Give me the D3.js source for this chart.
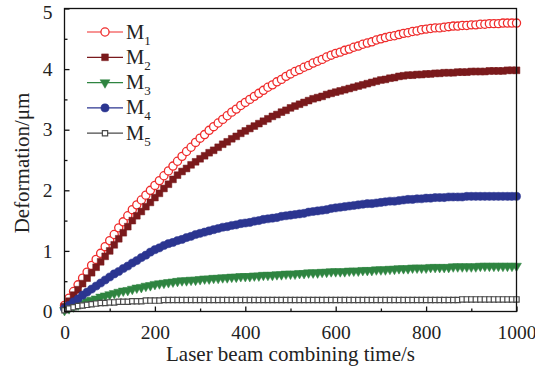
<!DOCTYPE html>
<html><head><meta charset="utf-8">
<script src="https://cdn.jsdelivr.net/npm/d3@7/dist/d3.min.js"></script>
<style>body{margin:0;background:#fff}svg{display:block}text{font-family:"Liberation Serif","Times New Roman",serif;fill:#222}</style>
</head><body><svg id="c" width="535" height="372"></svg>
<script>
const times = d3.range(0, 1001, 10);
const seriesNames = ["M1","M2","M3","M4","M5"];
const m1 = [0.10,0.22,0.33,0.44,0.55,0.65,0.76,0.86,0.96,1.07,1.17,
1.27,1.38,1.48,1.58,1.68,1.76,1.84,1.92,2.00,2.08,
2.16,2.24,2.32,2.40,2.48,2.56,2.64,2.71,2.79,2.86,
2.92,2.99,3.05,3.11,3.17,3.23,3.29,3.34,3.40,3.45,
3.50,3.55,3.60,3.65,3.70,3.74,3.79,3.83,3.88,3.92,
3.96,3.99,4.03,4.06,4.10,4.13,4.16,4.20,4.23,4.26,
4.28,4.31,4.33,4.36,4.38,4.41,4.43,4.45,4.48,4.50,
4.52,4.54,4.55,4.57,4.59,4.60,4.62,4.63,4.65,4.66,
4.67,4.68,4.68,4.69,4.70,4.71,4.71,4.72,4.72,4.73,
4.73,4.74,4.74,4.75,4.75,4.75,4.76,4.76,4.76,4.76];
const m2 = [0.08,0.17,0.27,0.36,0.46,0.55,0.64,0.73,0.82,0.91,1.00,
1.10,1.20,1.30,1.40,1.50,1.58,1.65,1.73,1.80,1.88,
1.95,2.03,2.10,2.18,2.25,2.31,2.36,2.42,2.47,2.52,
2.57,2.62,2.66,2.71,2.76,2.80,2.85,2.89,2.94,2.98,
3.02,3.06,3.10,3.14,3.18,3.22,3.25,3.29,3.32,3.36,
3.39,3.42,3.45,3.48,3.51,3.53,3.55,3.58,3.60,3.62,
3.64,3.66,3.68,3.70,3.72,3.74,3.76,3.78,3.80,3.82,
3.83,3.85,3.86,3.88,3.89,3.90,3.90,3.91,3.91,3.92,
3.92,3.93,3.93,3.94,3.94,3.94,3.95,3.95,3.95,3.96,
3.96,3.96,3.96,3.97,3.97,3.97,3.97,3.98,3.98,3.98];
const m3 = [0.02,0.05,0.08,0.11,0.14,0.17,0.19,0.21,0.24,0.26,0.28,
0.30,0.32,0.34,0.35,0.37,0.39,0.40,0.42,0.43,0.45,
0.46,0.47,0.48,0.49,0.50,0.51,0.51,0.52,0.52,0.53,
0.54,0.54,0.55,0.55,0.56,0.56,0.57,0.57,0.58,0.58,
0.58,0.59,0.59,0.60,0.60,0.60,0.61,0.61,0.62,0.62,
0.62,0.63,0.63,0.64,0.64,0.64,0.65,0.65,0.66,0.66,
0.66,0.66,0.67,0.67,0.67,0.68,0.68,0.68,0.69,0.69,
0.69,0.70,0.70,0.71,0.71,0.71,0.72,0.72,0.72,0.72,
0.73,0.73,0.73,0.73,0.73,0.74,0.74,0.74,0.74,0.74,
0.74,0.75,0.75,0.75,0.75,0.75,0.75,0.75,0.75,0.75];
const m4 = [0.05,0.10,0.16,0.21,0.27,0.32,0.37,0.42,0.47,0.52,0.57,
0.62,0.66,0.71,0.75,0.80,0.84,0.89,0.93,0.98,1.02,
1.05,1.09,1.12,1.14,1.17,1.19,1.22,1.24,1.27,1.29,
1.31,1.33,1.35,1.37,1.39,1.40,1.42,1.43,1.45,1.46,
1.47,1.49,1.50,1.52,1.53,1.54,1.55,1.57,1.58,1.59,
1.60,1.61,1.62,1.64,1.65,1.66,1.67,1.68,1.70,1.71,
1.72,1.73,1.74,1.75,1.76,1.77,1.78,1.78,1.79,1.80,
1.81,1.82,1.82,1.83,1.84,1.85,1.85,1.86,1.86,1.87,
1.87,1.88,1.88,1.88,1.89,1.89,1.89,1.89,1.90,1.90,
1.90,1.90,1.90,1.90,1.90,1.90,1.90,1.90,1.90,1.90];
const m5 = [0.02,0.05,0.07,0.09,0.10,0.11,0.12,0.13,0.14,0.14,0.15,
0.15,0.16,0.16,0.16,0.17,0.17,0.17,0.18,0.18,0.18,
0.18,0.19,0.19,0.19,0.19,0.19,0.19,0.19,0.19,0.19,
0.19,0.19,0.19,0.19,0.19,0.19,0.19,0.19,0.19,0.19,
0.19,0.19,0.19,0.19,0.19,0.19,0.19,0.19,0.19,0.19,
0.19,0.19,0.19,0.19,0.19,0.19,0.19,0.19,0.19,0.19,
0.19,0.19,0.19,0.19,0.19,0.19,0.19,0.19,0.19,0.19,
0.19,0.19,0.19,0.19,0.19,0.19,0.19,0.19,0.19,0.19,
0.19,0.19,0.19,0.19,0.19,0.19,0.19,0.20,0.20,0.20,
0.20,0.20,0.20,0.20,0.20,0.20,0.20,0.20,0.20,0.20];
const xTicks = [0,200,400,600,800,1000];
const yTicks = [0,1,2,3,4,5];
const xLabel = "Laser beam combining time/s";
const yLabel = "Deformation/μm";

const W=535,H=372, L=64.5, R=516.5, T=8.5, B=311.5;
const svg = d3.select("#c");
const x = d3.scaleLinear().domain([0,1000]).range([L,R]);
const y = d3.scaleLinear().domain([0,5]).range([B,T]);

const styles = [
 {color:"#ef2b2b", sym:d3.symbolCircle, size:52, fill:"#fff", sw:1.3},
 {color:"#7a1a1c", sym:d3.symbolSquare, size:46, fill:"#7a1a1c", sw:0.5},
 {color:"#2e8440", sym:d3.symbolTriangle, size:42, fill:"#2e8440", sw:0.5, rot:180},
 {color:"#2b3590", sym:d3.symbolCircle, size:52, fill:"#2b3590", sw:0.5},
 {color:"#4a4a4a", sym:d3.symbolSquare, size:28, fill:"#fff", sw:1.2}
];
const data = [m1,m2,m3,m4,m5];

const g = svg.append("g");
const line = d3.line().x((d,i)=>x(times[i])).y(d=>y(d));
data.forEach((vals,k)=>{
  const s = styles[k];
  g.append("path").datum(vals).attr("d",line).attr("fill","none").attr("stroke",s.color).attr("stroke-width",1);
  const sym = d3.symbol().type(s.sym).size(s.size);
  g.selectAll(null).data(vals).join("path")
    .attr("d",sym)
    .attr("transform",(d,i)=>`translate(${x(times[i])},${y(d)})`+(s.rot?` rotate(${s.rot})`:""))
    .attr("fill",s.fill).attr("stroke",s.color).attr("stroke-width",s.sw);
});

svg.append("rect").attr("x",L).attr("y",T).attr("width",R-L).attr("height",B-T)
  .attr("fill","none").attr("stroke","#111").attr("stroke-width",1.3);

const xAxis = d3.axisBottom(x).tickValues(xTicks).tickSizeInner(-5).tickSizeOuter(0).tickPadding(14).tickFormat(d3.format("d"));
const gx = svg.append("g").attr("transform",`translate(0,${B})`).call(xAxis);
gx.select(".domain").remove();
gx.selectAll("line").attr("stroke","#111").attr("stroke-width",1.3);
gx.selectAll("text").attr("font-size",19.5).attr("fill","#222").attr("font-family","Liberation Serif, serif");
const xMinor = d3.axisBottom(x).tickValues([100,300,500,700,900]).tickSizeInner(-3).tickSizeOuter(0).tickFormat("");
const gxm = svg.append("g").attr("transform",`translate(0,${B})`).call(xMinor);
gxm.select(".domain").remove();
gxm.selectAll("line").attr("stroke","#111").attr("stroke-width",1.3);

const yAxis = d3.axisLeft(y).tickValues(yTicks).tickSizeInner(-5).tickSizeOuter(0).tickPadding(12).tickFormat(d3.format("d"));
const gy = svg.append("g").attr("transform",`translate(${L},0)`).call(yAxis);
gy.select(".domain").remove();
gy.selectAll("line").attr("stroke","#111").attr("stroke-width",1.3);
gy.selectAll("text").attr("font-size",19.5).attr("fill","#222").attr("font-family","Liberation Serif, serif");
gy.selectAll(".tick").filter(d=>d===5).select("text").attr("dy","0.32em").attr("y",4);
const yMinor = d3.axisLeft(y).tickValues([0.5,1.5,2.5,3.5,4.5]).tickSizeInner(-3).tickSizeOuter(0).tickFormat("");
const gym = svg.append("g").attr("transform",`translate(${L},0)`).call(yMinor);
gym.select(".domain").remove();
gym.selectAll("line").attr("stroke","#111").attr("stroke-width",1.3);

svg.append("text").attr("x",(L+R)/2).attr("y",361).attr("text-anchor","middle")
  .attr("font-size",21).text(xLabel);
svg.append("text").attr("transform",`translate(29,${(T+B)/2+3}) rotate(-90)`).attr("text-anchor","middle")
  .attr("font-size",21).text(yLabel);

const lg = svg.append("g");
seriesNames.forEach((n,k)=>{
  const s = styles[k];
  const yy = 32 + k*25.3;
  lg.append("line").attr("x1",87).attr("x2",123).attr("y1",yy).attr("y2",yy).attr("stroke",s.color).attr("stroke-width",1.2);
  lg.append("path").attr("d",d3.symbol().type(s.sym).size(s.size)())
    .attr("transform",`translate(105,${yy})`+(s.rot?` rotate(${s.rot})`:""))
    .attr("fill",s.fill).attr("stroke",s.color).attr("stroke-width",s.sw);
  const t = lg.append("text").attr("x",126).attr("y",yy+6.5).attr("font-size",20.5);
  t.append("tspan").text(n[0]);
  t.append("tspan").attr("font-size",13).attr("dy",6).text(n.slice(1));
});
</script></body></html>
